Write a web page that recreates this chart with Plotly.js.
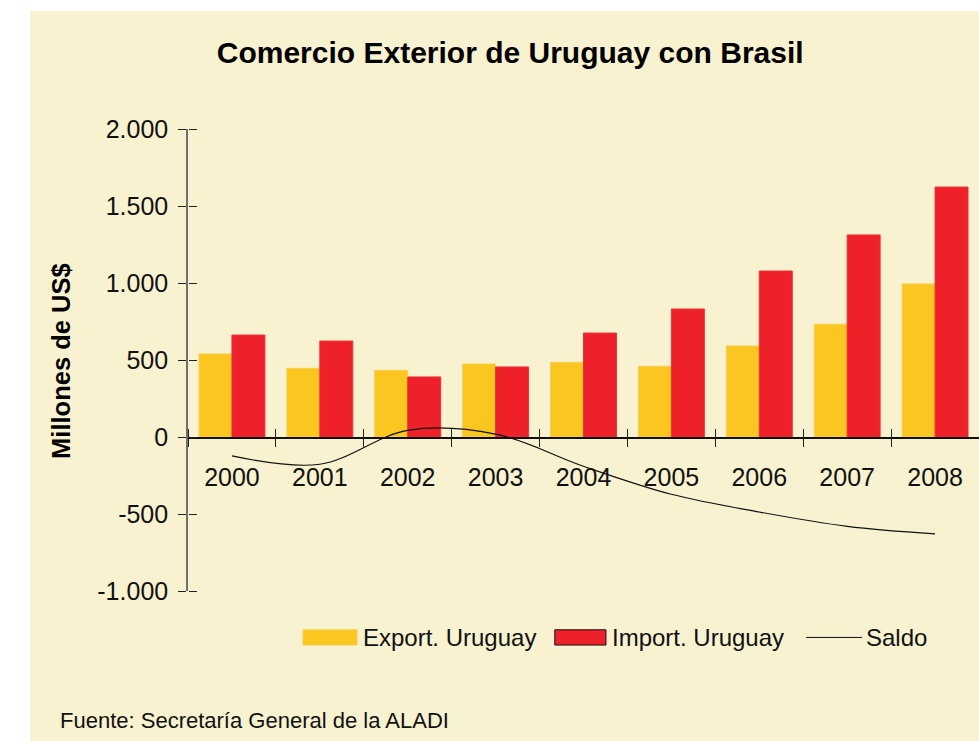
<!DOCTYPE html>
<html>
<head>
<meta charset="utf-8">
<script src="https://cdn.plot.ly/plotly-3.0.1.min.js"></script>
<style>
  html, body { margin:0; padding:0; background:#ffffff; }
  #chart { position:absolute; left:30px; top:11px; width:949px; height:730px; }
</style>
</head>
<body>
<div id="chart"></div>
<script>
// ---- data ----
const years = ['2000','2001','2002','2003','2004','2005','2006','2007','2008'];
const exportUruguay = [539, 446, 433, 474, 485, 459, 591, 732, 994];
const importUruguay = [662, 623, 390, 455, 675, 831, 1078, 1312, 1623];
const saldo = [-123, -177, 43, 19, -190, -372, -487, -580, -629];
const seriesNames = ['Export. Uruguay', 'Import. Uruguay', 'Saldo'];
const yTickVals = [-1000, -500, 0, 500, 1000, 1500, 2000];
const yTickText = ['-1.000', '-500', '0', '500', '1.000', '1.500', '2.000'];
const titleText = 'Comercio Exterior de Uruguay con Brasil';
const yTitleText = 'Millones de US$';
const sourceText = 'Fuente: Secretaría General de la ALADI';

const cExport = '#FAC61F';
const cImport = '#EE202A';
const cream = '#F8F2D0';
const FONT = 'Liberation Sans, Arial, sans-serif';

const traces = [
  { type:'bar', x: years, y: exportUruguay, name: seriesNames[0],
    marker:{ color: cExport, line:{ color:'#F6CF55', width:1 } }, hoverinfo:'x+y' },
  { type:'bar', x: years, y: importUruguay, name: seriesNames[1],
    marker:{ color: cImport, line:{ color:'#EE3036', width:1 } }, hoverinfo:'x+y' },
  { type:'scatter', mode:'lines', x: years, y: saldo, name: seriesNames[2],
    line:{ color:'#111111', width:1.2, shape:'spline', smoothing:1 } },
  // helper trace on the overlay axes (draws the inner halves of the tick marks)
  { type:'scatter', mode:'markers', x: years, y: saldo, xaxis:'x2', yaxis:'y2',
    marker:{ size:1, opacity:0 }, hoverinfo:'skip', showlegend:false }
];

const legY0 = -0.084, legY1 = -0.117, legYc = -0.1005;
const layout = {
  width: 949, height: 730,
  margin: { l:158, r:0, t:118, b:150, pad:0 },
  paper_bgcolor: cream, plot_bgcolor: cream,
  showlegend: false,
  barmode: 'group', bargap: 0.25, bargroupgap: 0,
  font: { family: FONT, color:'#111111' },
  title: { text: '<b>' + titleText + '</b>', font:{ family: FONT, size: 30, color:'#000' },
           xref:'container', x: 0.506, xanchor:'center', yref:'container', y: 0.943, yanchor:'middle' },
  xaxis: {
    type:'category', anchor:'free', position: 1/3, range:[-0.5, 8.5],
    showline:true, linecolor:'#111', linewidth:1.5,
    ticks:'outside', tickson:'boundaries', ticklen:8, tickcolor:'#222', tickwidth:1,
    tickfont:{ family: FONT, size: 25, color:'#111' }, ticklabelstandoff: 17,
    showgrid:false, zeroline:false, fixedrange:true
  },
  xaxis2: {
    type:'category', overlaying:'x', anchor:'free', position: 1/3, range:[-0.5, 8.5], side:'top',
    ticks:'outside', tickson:'boundaries', ticklen:8, tickcolor:'#222', tickwidth:1,
    showticklabels:false, showline:false, showgrid:false, zeroline:false, fixedrange:true
  },
  yaxis: {
    range:[-1000, 2000], tickvals: yTickVals, ticktext: yTickText,
    showline:true, linecolor:'#6f6f6f', linewidth:1.8,
    ticks:'outside', ticklen:8, tickcolor:'#222', tickwidth:1,
    tickfont:{ family: FONT, size: 25, color:'#111' }, ticklabelstandoff: 5,
    showgrid:false, zeroline:false, fixedrange:true
  },
  yaxis2: {
    overlaying:'y', anchor:'free', position: 0, side:'right', range:[-1000, 2000], tickvals: yTickVals,
    ticks:'outside', ticklen:8, tickcolor:'#222', tickwidth:1,
    showticklabels:false, showline:false, showgrid:false, zeroline:false, fixedrange:true
  },
  shapes: [
    { type:'rect', xref:'paper', yref:'paper', x0:0.1454, x1:0.2137, y0:legY0, y1:legY1,
      fillcolor: cExport, line:{ color:'#F6CF55', width:1 } },
    { type:'rect', xref:'paper', yref:'paper', x0:0.4637, x1:0.5284, y0:legY0, y1:legY1,
      fillcolor: cImport, line:{ color:'#111', width:1 } },
    { type:'line', xref:'paper', yref:'paper', x0:0.7813, x1:0.8521, y0:legYc, y1:legYc,
      line:{ color:'#111', width:1 } }
  ],
  annotations: [
    { text: seriesNames[0], xref:'paper', yref:'paper', x:0.219, y:legYc, xanchor:'left', yanchor:'middle',
      showarrow:false, font:{ family: FONT, size: 24, color:'#111' } },
    { text: seriesNames[1], xref:'paper', yref:'paper', x:0.5335, y:legYc, xanchor:'left', yanchor:'middle',
      showarrow:false, font:{ family: FONT, size: 24, color:'#111' } },
    { text: seriesNames[2], xref:'paper', yref:'paper', x:0.8545, y:legYc, xanchor:'left', yanchor:'middle',
      showarrow:false, font:{ family: FONT, size: 24, color:'#111' } },
    { text: '<b>' + yTitleText + '</b>', xref:'paper', yref:'paper', x:-0.1606, y:0.498,
      xanchor:'center', yanchor:'middle', textangle:-90, showarrow:false,
      font:{ family: FONT, size: 25.5, color:'#000' } },
    { text: sourceText, xref:'paper', yref:'paper', x:-0.1645, y:-0.281, xanchor:'left', yanchor:'middle',
      showarrow:false, font:{ family: FONT, size: 22, color:'#111' } }
  ]
};

Plotly.newPlot('chart', traces, layout, { displayModeBar:false, staticPlot:true });
</script>
</body>
</html>
